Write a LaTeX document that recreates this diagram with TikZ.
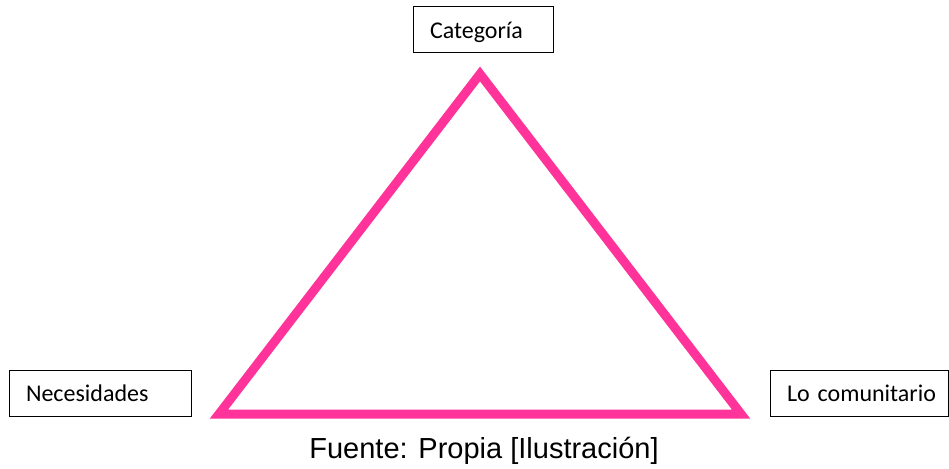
\documentclass[tikz,border=0pt]{standalone}
\usepackage{fontspec}
\setmainfont{Carlito}
\newfontfamily\arialfont{Liberation Sans}
\definecolor{rosa}{RGB}{255,51,153}
\tikzset{
  caja/.style={draw, line width=1pt, rectangle, minimum height=46pt, inner xsep=17pt,
    align=left, text height=17pt, text depth=0pt, font=\fontsize{24}{28}\selectfont},
  lado/.style={draw=rosa, line width=9pt, miter limit=20}
}
\begin{document}
\begin{tikzpicture}[x=1pt,y=-1pt]
      \useasboundingbox (0,0) rectangle (949,468);
      \draw
        (483,30) node[caja, text width=106pt] (cat){Categoría}
        (100,393) node[caja, text width=148pt] (nec){Necesidades}
        (859,393) node[caja, text width=144pt] (com){\mbox{Lo comunitario}};
      \begin{scope}[lado]
        \draw (219,414) coordinate (izq) -- (480,74) coordinate (arr)
          -- (741,414) coordinate (der) -- cycle;
      \end{scope}
      \node[anchor=base, font=\arialfont\fontsize{29}{34}\selectfont] (fuente)
        at (484,458) {Fuente: Propia [Ilustración]};
    \end{tikzpicture}
\end{document}
